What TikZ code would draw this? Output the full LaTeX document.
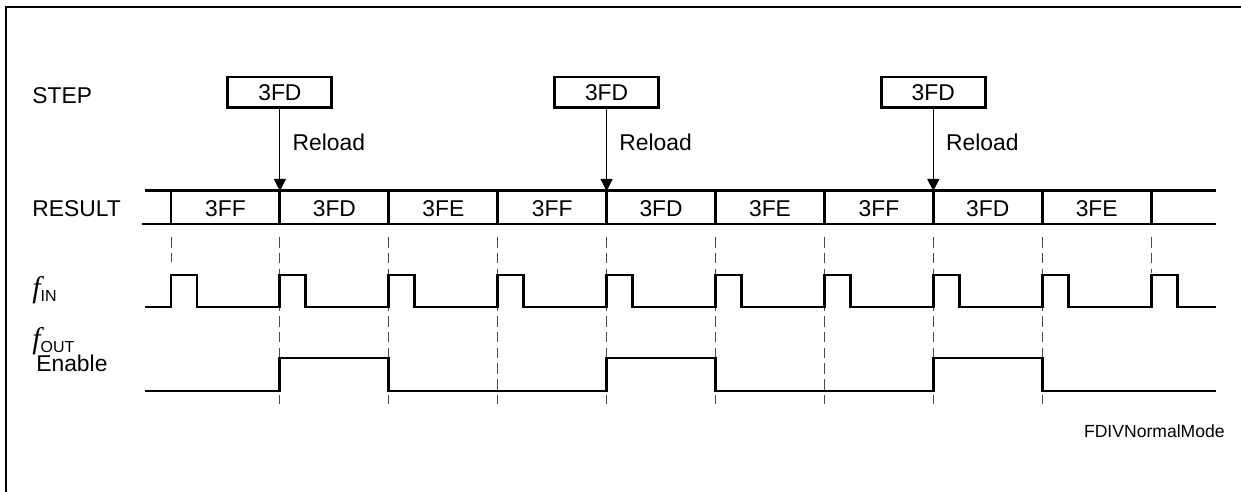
\documentclass[tikz,border=0pt]{standalone}
\usepackage{fontspec}
\setmainfont{Liberation Sans}
\newfontfamily\serifit{Liberation Serif}
\usetikzlibrary{positioning,arrows.meta,calc}

\begin{document}
\begin{tikzpicture}[x=0.02cm, y=-0.02cm, font=\fontsize{13}{15}\selectfont,
      sig/.style={line width=1.7pt, line join=miter},
      grid/.style={gray!60!black, dash pattern=on 6pt off 3pt, line width=0.5pt},
      stepbox/.style={draw, line width=1.7pt, minimum width=2.08cm, minimum height=0.62cm,
                inner sep=0pt},
      lbl/.style={anchor=west, inner sep=0pt}]
    \useasboundingbox (0,0) rectangle (1241,492);
    \draw[line width=0.6pt] (6,492) -- (6,7) -- (1241,7);

    % signal names
    \node[lbl] (lstep) at (32,96) {STEP};
    \node[lbl] (lres) at (32,209) {RESULT};
    \node[lbl] (lin) at (32,290) {{\serifit\itshape\fontsize{17}{19}\selectfont f}\textsubscript{IN}};
    \node[lbl] (lout) at (32,341) {{\serifit\itshape\fontsize{17}{19}\selectfont f}\textsubscript{OUT}};
    \node[lbl] (lena) at (36,363) {Enable};

    % RESULT bus
    \draw[sig] (145,191) -- (1216,191);
    \draw[sig] (142,224) -- (1216,224);
    \foreach \v [count=\i from 0] in {3FF,3FD,3FE,3FF,3FD,3FE,3FF,3FD,3FE} {
      \draw[sig] ({171+\i*108.9},191) -- ({171+\i*108.9},224);
      \node (r\i) at ({225.5+\i*108.9},209) {\v};
    }
    \draw[sig] (1151.1,191) -- (1151.1,224);

    % STEP reloads
    \foreach \k/\n in {1/1,4/2,7/3} {
      \coordinate (a\n) at ({171+\k*108.9},191);
      \node[stepbox] (s\n) at ({171+\k*108.9},92.5) {3FD};
      \draw[-{Triangle[length=0.24cm,width=0.24cm]}, line width=0.6pt]
        (s\n.south) -- node[pos=0.4, right=7pt, inner sep=0pt] {Reload} (a\n);
    }

    % dashed edges
    \draw[grid] (171,237) -- (171,262);
    \foreach \k in {1,...,8}
      \draw[grid] ({171+\k*108.9},237) -- ({171+\k*108.9},404);
    \draw[grid] (1151.1,237) -- (1151.1,273);

    % f_IN
    \draw[sig] (145,307) foreach \k in {0,...,9} {
        -- ({171+\k*108.9},307) -- ++(0,-32) -- ++(26,0) -- ++(0,32) } -- (1216,307);

    % f_OUT enable
    \draw[sig] (145,391) foreach \k in {1,4,7} {
        -- ({171+\k*108.9},391) -- ++(0,-33) -- ++(108.9,0) -- ++(0,33) } -- (1216,391);

    \node[anchor=east, inner sep=0pt, font=\fontsize{10}{12}\selectfont] (fig) at (1225,431) {FDIVNormalMode};
  \end{tikzpicture}
\end{document}
